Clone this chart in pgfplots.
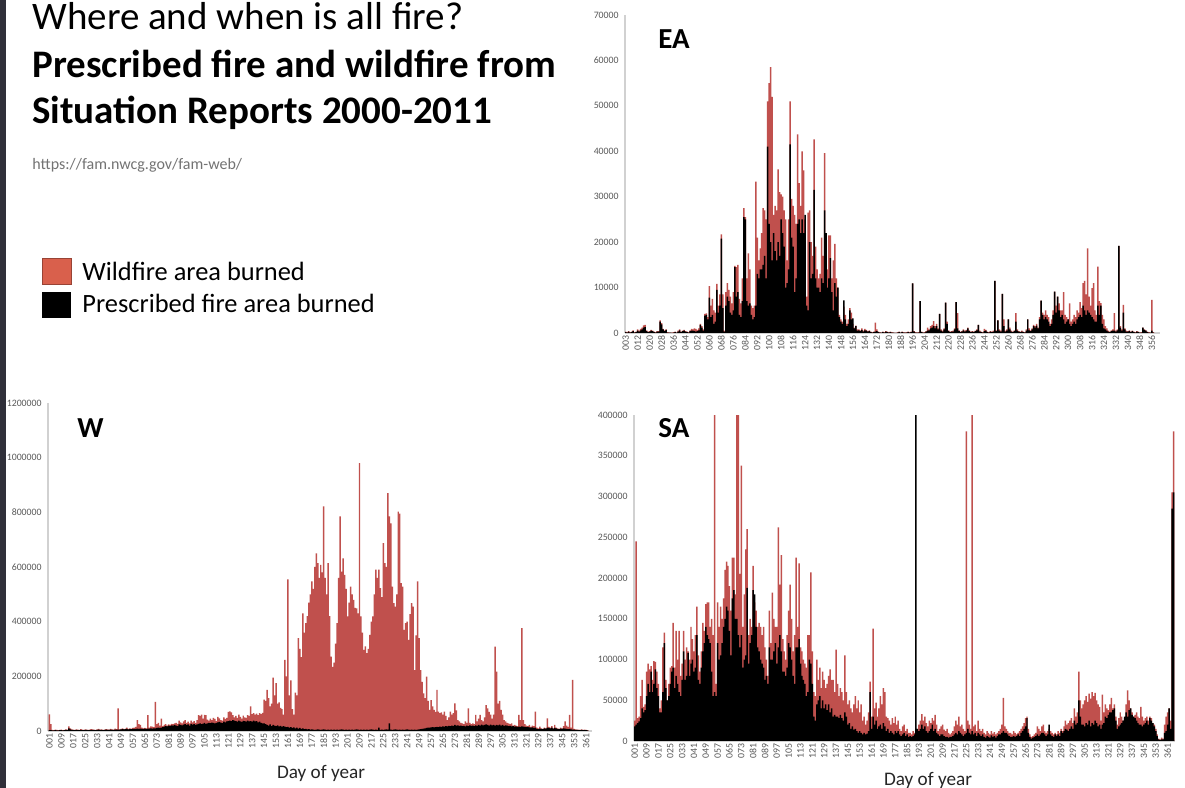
\documentclass[border=0pt]{standalone}
\usepackage{fontspec}
\setmainfont{Carlito}
\usepackage{pgfplots}
\usepackage{pgfplotstable}
\pgfplotsset{compat=1.18}
\definecolor{wfred}{HTML}{C0504D}
\definecolor{legred}{HTML}{D9604C}
\definecolor{ticktext}{HTML}{595959}
\definecolor{strip}{HTML}{30303A}

\pgfplotstableread[row sep=\\,header=false]{
4 0.3 0.2\\5 0.2 0.1\\6 0.4 0.3\\7 0.2 0.1\\8 0.3 0.2\\9 0.6 0.4\\10 0.2 0.1\\11 0.3 0.2\\12 0.8 0.5\\13 0.5 0.3\\
14 0.9 0.6\\15 1.2 0.8\\16 1.7 1.2\\17 1.8 1.3\\18 0.6 0.4\\19 0.3 0.2\\20 0.4 0.3\\21 0.7 0.5\\22 0.5 0.4\\23 0.3 0.2\\
24 0.2 0.1\\25 0.4 0.3\\26 0.4 0.3\\27 2.8 2.5\\28 2.2 1.9\\29 0.9 0.8\\30 0.6 0.4\\31 0.8 0.7\\32 0.2 0.1\\33 0.1 0.1\\
34 0.1 0.1\\35 0.1 0\\36 0.2 0.1\\37 0.3 0.2\\38 0.1 0.1\\39 0.5 0.3\\40 0.8 0.6\\41 0.3 0.2\\42 0.5 0.4\\43 0.7 0.5\\
44 0.4 0.3\\45 0.3 0.2\\46 0.2 0.1\\47 0.6 0.4\\48 0.9 0.5\\49 0.8 0.5\\50 1.0 0.4\\51 0.9 0.3\\52 0.7 0.4\\53 1.0 0.6\\
54 2.0 1.8\\55 1.5 1.2\\56 0.8 0.5\\57 4.2 3.8\\58 4.3 4.0\\59 3.5 3.0\\60 10.3 7.8\\61 6.0 3.5\\62 7.5 4.0\\63 5.0 2.0\\
64 4.5 2.5\\65 10.8 9.5\\66 6.0 4.5\\67 8.5 6.0\\68 21.7 20.8\\69 8.5 5.5\\70 0.5 0.3\\71 9.0 6.0\\72 11.0 8.0\\73 9.5 7.0\\
74 8.0 4.5\\75 6.5 4.0\\76 9.0 5.0\\77 14.8 14.5\\78 14.5 8.0\\79 15.0 9.0\\80 7.5 4.0\\81 6.5 3.5\\82 12.0 7.0\\83 27.5 25.5\\
84 25.5 25.0\\85 12.0 7.0\\86 17.5 6.0\\87 14.0 6.5\\88 6.0 4.0\\89 5.5 3.0\\90 6.0 3.5\\91 33.3 6.0\\92 21.0 13.0\\93 16.0 12.0\\
94 18.6 14.0\\95 22.0 14.0\\96 27.5 15.0\\97 27.0 17.0\\98 25.0 12.0\\99 51.0 41.0\\100 55.0 24.0\\101 58.5 20.0\\102 52.0 16.0\\103 26.0 22.0\\
104 28.0 18.0\\105 27.0 16.0\\106 36.0 20.0\\107 31.0 17.0\\108 30.5 25.0\\109 30.0 22.0\\110 27.0 19.0\\111 25.0 10.0\\112 16.0 11.0\\113 25.0 14.0\\
114 51.0 41.5\\115 29.5 21.0\\116 28.0 19.0\\117 26.0 9.0\\118 24.0 12.0\\119 43.7 24.0\\120 33.0 25.0\\121 28.0 22.0\\122 40.0 25.0\\123 35.8 22.0\\
124 25.0 26.0\\125 8.0 6.0\\126 26.5 5.0\\127 27.0 20.0\\128 20.0 12.0\\129 17.0 13.0\\130 42.6 31.5\\131 19.0 12.0\\132 14.0 10.0\\133 12.0 10.0\\
134 13.0 9.0\\135 21.0 12.0\\136 17.0 11.0\\137 39.6 27.0\\138 22.0 22.0\\139 14.0 10.0\\140 21.5 12.0\\141 21.5 16.5\\142 12.0 9.0\\143 16.0 5.0\\
144 19.6 11.0\\145 12.0 8.0\\146 10.0 10.0\\147 4.0 3.5\\148 3.0 2.5\\149 2.5 2.0\\150 5.8 7.2\\151 4.0 3.0\\152 2.0 1.5\\153 3.0 2.0\\
154 5.5 5.0\\155 4.5 3.0\\156 2.0 3.2\\157 1.2 1.0\\158 1.6 1.5\\159 0.8 0.5\\160 0.8 0.6\\161 0.6 0.4\\162 1.0 0.7\\163 0.5 0.3\\
164 0.9 0.6\\165 0.7 0.5\\166 0.4 0.3\\167 0.6 0.4\\168 0.3 0.2\\169 0.2 0.1\\170 0.3 0.2\\171 2.3 0.3\\172 0.8 0.4\\173 0.3 0.2\\
174 0.2 0.1\\175 0.1 0.1\\176 0.3 0.2\\177 0.2 0.1\\178 0.4 0.3\\179 0.3 0.2\\180 0.2 0.1\\181 0.3 0.2\\182 0.2 0.1\\183 0.1 0.1\\
184 0.1 0\\185 0 0\\186 0.2 0.1\\187 0.3 0.2\\188 0.1 0.1\\189 0.3 0.2\\190 0.2 0.1\\191 0.1 0.1\\192 0.2 0.1\\193 0.3 0.2\\
194 0.2 0.1\\195 0.3 0.2\\196 10.9 10.9\\197 0.4 0.3\\198 0.2 0.1\\199 0.1 0.1\\200 0.2 0.1\\201 7.0 7.0\\202 0.3 0.2\\203 0.1 0.1\\
204 0.2 0.1\\205 0.4 0.3\\206 1.2 0.5\\207 0.8 0.6\\208 1.5 1.0\\209 1.8 1.2\\210 2.6 1.5\\211 1.5 1.0\\212 2.0 1.5\\213 1.0 0.8\\
214 4.2 4.2\\215 0.8 0.5\\216 0.5 0.3\\217 1.0 0.8\\218 6.7 6.7\\219 2.5 2.0\\220 0.6 0.4\\221 0.3 0.2\\222 0.4 0.3\\223 0.5 0.3\\
224 1.0 0.8\\225 6.8 6.8\\226 4.4 1.0\\227 0.6 0.4\\228 0.3 0.2\\229 0.4 0.3\\230 0.8 0.6\\231 0.5 0.3\\232 0.7 0.5\\233 1.2 1.0\\
234 0.6 0.4\\235 0.3 0.2\\236 0.4 0.3\\237 0.3 0.2\\238 0.5 0.4\\239 0.8 0.6\\240 1.8 1.8\\241 0.5 0.3\\242 0.3 0.2\\243 0.2 0.1\\
244 0.9 0.4\\245 0.7 0.5\\246 0.3 0.2\\247 0.2 0.1\\248 0.4 0.3\\249 0.3 0.2\\250 0.5 0.3\\251 11.5 11.5\\252 0.6 0.4\\253 2.8 2.8\\
254 0.8 0.5\\255 0.5 0.3\\256 8.6 8.6\\257 3.0 1.5\\258 0.5 0.3\\259 0.8 0.5\\260 3.0 3.0\\261 1.2 0.8\\262 0.5 0.3\\263 0.3 0.2\\
264 0.6 0.4\\265 4.4 2.5\\266 0.8 0.5\\267 0.4 0.3\\268 0.3 0.2\\269 0.5 0.3\\270 0.3 0.2\\271 0.2 0.1\\272 0.8 0.5\\273 3.0 3.0\\
274 1.0 0.6\\275 0.6 0.4\\276 1.0 0.8\\277 1.8 1.5\\278 1.5 1.2\\279 2.0 1.6\\280 1.2 1.0\\281 3.5 3.0\\282 7.1 7.1\\283 4.5 4.0\\
284 4.0 3.0\\285 5.0 3.5\\286 4.0 3.0\\287 3.5 2.5\\288 2.0 1.5\\289 3.0 2.0\\290 5.0 4.0\\291 9.1 9.1\\292 6.0 4.5\\293 8.0 8.0\\
294 6.5 5.0\\295 5.0 3.5\\296 5.0 4.0\\297 9.0 3.0\\298 4.0 2.0\\299 3.5 2.5\\300 3.0 3.0\\301 6.5 2.0\\302 2.5 1.5\\303 3.0 2.0\\
304 4.0 2.5\\305 3.5 2.0\\306 5.0 3.0\\307 4.5 3.5\\308 6.8 4.0\\309 5.5 3.5\\310 11.0 6.0\\311 11.5 5.0\\312 8.5 4.0\\313 18.6 5.0\\
314 8.0 4.5\\315 6.0 4.0\\316 9.9 3.5\\317 11.0 3.0\\318 5.0 2.5\\319 4.0 2.5\\320 14.6 6.0\\321 7.0 4.0\\322 6.6 6.0\\323 4.0 2.0\\
324 3.0 1.0\\325 1.5 0.8\\326 1.0 0.5\\327 0.5 0.3\\328 0.3 0.2\\329 0.6 0.4\\330 0.8 0.5\\331 4.4 0.5\\332 0.5 0.3\\333 0.8 0.6\\
334 19.2 19.2\\335 1.5 1.2\\336 0.8 0.5\\337 6.2 4.5\\338 1.0 0.8\\339 0.5 0.3\\340 0.4 0.3\\341 0.6 0.4\\342 0.3 0.2\\343 0.5 0.4\\
344 0.3 0.2\\345 0.2 0.1\\346 0.4 0.3\\347 0.3 0.2\\348 0.1 0.1\\349 0.2 0.1\\350 1.2 1.2\\351 0.8 0.7\\352 0.6 0.5\\353 0.3 0.2\\
354 0.2 0.1\\355 0.1 0.1\\356 7.3 0.5\\357 0.2 0.1\\
}\eadata

\pgfplotstableread[row sep=\\,header=false]{
1 61 3\\2 25 3\\3 4 2\\4 3 2\\5 5 3\\6 4 2\\7 3 2\\8 4 3\\9 5 3\\10 3 2\\
11 4 3\\12 6 4\\13 5 3\\14 17 10\\15 10 6\\16 6 4\\17 5 3\\18 4 3\\19 6 4\\20 5 3\\
21 4 3\\22 7 4\\23 5 3\\24 4 3\\25 6 4\\26 5 4\\27 4 3\\28 5 3\\29 7 4\\30 6 4\\
31 5 3\\32 4 3\\33 6 4\\34 8 5\\35 5 4\\36 6 4\\37 4 3\\38 5 4\\39 7 5\\40 6 4\\
41 5 4\\42 8 5\\43 6 4\\44 5 4\\45 9 5\\46 7 5\\47 83 5\\48 6 5\\49 8 6\\50 10 7\\
51 7 6\\52 9 7\\53 12 8\\54 8 6\\55 10 7\\56 9 7\\57 11 8\\58 12 8\\59 15 8\\60 40 9\\
61 25 8\\62 22 9\\63 12 8\\64 10 8\\65 11 9\\66 10 8\\67 58 9\\68 12 9\\69 17 10\\70 16 9\\
71 14 10\\72 107 10\\73 25 11\\74 30 12\\75 20 11\\76 45 12\\77 18 14\\78 22 16\\79 25 18\\80 20 17\\
81 24 20\\82 22 18\\83 26 21\\84 25 20\\85 28 22\\86 30 20\\87 26 18\\88 38 24\\89 32 22\\90 28 21\\
91 35 23\\92 40 25\\93 30 22\\94 34 24\\95 28 20\\96 38 26\\97 32 23\\98 36 25\\99 30 22\\100 40 24\\
101 58 26\\102 55 28\\103 60 25\\104 45 27\\105 59 30\\106 58 26\\107 42 28\\108 38 30\\109 45 29\\110 40 31\\
111 48 30\\112 44 28\\113 36 30\\114 52 32\\115 46 33\\116 40 31\\117 38 29\\118 50 34\\119 44 32\\120 48 35\\
121 70 36\\122 72 38\\123 68 36\\124 58 40\\125 50 38\\126 55 36\\127 48 34\\128 60 38\\129 52 35\\130 45 33\\
131 56 37\\132 50 36\\133 48 34\\134 58 38\\135 55 35\\136 90 36\\137 62 34\\138 65 38\\139 60 35\\140 64 36\\
141 58 32\\142 65 34\\143 62 30\\144 66 28\\145 115 28\\146 110 25\\147 150 22\\148 120 20\\149 90 24\\150 100 18\\
151 195 22\\152 130 20\\153 175 18\\154 100 21\\155 105 17\\156 85 19\\157 80 15\\158 60 18\\159 260 16\\160 200 14\\
161 555 15\\162 130 12\\163 185 14\\164 80 11\\165 60 13\\166 140 10\\167 130 12\\168 340 9\\169 300 11\\170 270 8\\
171 430 10\\172 360 7\\173 395 8\\174 420 6\\175 470 7\\176 500 5\\177 547 6\\178 520 5\\179 600 4\\180 650 5\\
181 614 6\\182 560 5\\183 608 4\\184 580 5\\185 822 6\\186 560 5\\187 500 4\\188 614 5\\189 420 4\\190 272 5\\
191 235 4\\192 250 5\\193 320 4\\194 395 5\\195 560 4\\196 785 5\\197 583 6\\198 632 5\\199 571 4\\200 520 5\\
201 419 4\\202 470 5\\203 528 4\\204 500 5\\205 480 4\\206 450 5\\207 449 6\\208 430 5\\209 980 4\\210 419 5\\
211 360 4\\212 297 5\\213 310 4\\214 285 5\\215 300 4\\216 352 5\\217 400 6\\218 419 5\\219 500 4\\220 590 5\\
221 560 4\\222 590 12\\223 523 4\\224 490 5\\225 687 4\\226 614 5\\227 600 6\\228 870 5\\229 785 28\\230 760 5\\
231 528 4\\232 468 5\\233 455 6\\234 500 5\\235 803 4\\236 795 5\\237 541 4\\238 528 5\\239 370 4\\240 395 5\\
241 400 6\\242 333 5\\243 428 4\\244 468 5\\245 455 4\\246 223 5\\247 350 4\\248 547 5\\249 340 6\\250 223 7\\
251 180 8\\252 138 9\\253 120 10\\254 199 11\\255 110 12\\256 77 12\\257 113 13\\258 90 14\\259 77 13\\260 70 14\\
261 150 15\\262 71 14\\263 65 16\\264 68 15\\265 60 17\\266 71 16\\267 55 18\\268 40 17\\269 50 19\\270 71 18\\
271 60 20\\272 65 19\\273 101 22\\274 75 20\\275 40 21\\276 35 19\\277 30 20\\278 28 18\\279 25 19\\280 35 17\\
281 30 20\\282 83 18\\283 30 21\\284 25 19\\285 28 20\\286 25 18\\287 59 21\\288 35 19\\289 45 22\\290 59 20\\
291 40 23\\292 35 21\\293 50 22\\294 95 24\\295 83 22\\296 70 20\\297 60 23\\298 45 21\\299 60 22\\300 309 20\\
301 217 22\\302 100 21\\303 110 23\\304 77 20\\305 60 22\\306 40 19\\307 35 21\\308 30 20\\309 28 18\\310 25 19\\
311 28 17\\312 20 18\\313 22 16\\314 20 17\\315 18 15\\316 59 16\\317 40 15\\318 376 17\\319 40 16\\320 25 15\\
321 20 14\\322 18 15\\323 22 13\\324 15 12\\325 20 13\\326 18 11\\327 71 12\\328 12 8\\329 10 7\\330 16 9\\
331 10 8\\332 8 7\\333 12 10\\334 10 9\\335 46 12\\336 15 11\\337 12 10\\338 18 12\\339 10 9\\340 22 11\\
341 12 10\\342 10 8\\343 8 7\\344 12 9\\345 10 8\\346 18 10\\347 35 9\\348 20 8\\349 15 7\\350 59 8\\
351 12 6\\352 187 5\\353 8 5\\354 6 4\\355 5 4\\356 5 3\\357 4 3\\358 6 4\\359 4 3\\360 5 3\\
361 4 3\\362 3 2\\
}\wdata

\pgfplotstableread[row sep=\\,header=false]{
1 25 18\\2 245 20\\3 28 22\\4 30 24\\5 55 28\\6 75 40\\7 42 35\\8 45 38\\9 85 55\\10 95 70\\
11 88 60\\12 92 85\\13 75 60\\14 98 70\\15 97 88\\16 85 65\\17 70 55\\18 40 35\\19 50 35\\20 115 60\\
21 133 120\\22 75 65\\23 50 50\\24 70 55\\25 90 70\\26 92 85\\27 145 90\\28 90 65\\29 135 80\\30 100 70\\
31 135 60\\32 80 55\\33 95 75\\34 135 110\\35 100 75\\36 115 80\\37 110 108\\38 100 80\\39 140 95\\40 125 100\\
41 110 85\\42 130 90\\43 165 130\\44 105 75\\45 85 70\\46 110 90\\47 145 110\\48 135 120\\49 168 140\\50 170 130\\
51 170 125\\52 140 120\\53 150 85\\54 130 55\\55 400 60\\56 70 55\\57 170 120\\58 140 100\\59 165 105\\60 150 120\\
61 175 140\\62 210 150\\63 220 165\\64 215 160\\65 190 135\\66 160 105\\67 225 175\\68 225 185\\69 180 150\\70 400 150\\
71 400 130\\72 205 115\\73 338 130\\74 140 90\\75 180 100\\76 235 105\\77 260 188\\78 130 95\\79 150 120\\80 140 130\\
81 215 185\\82 170 180\\83 160 140\\84 140 115\\85 145 110\\86 140 100\\87 130 95\\88 140 90\\89 115 75\\90 100 80\\
91 80 70\\92 160 115\\93 120 100\\94 182 100\\95 150 110\\96 140 120\\97 140 95\\98 262 115\\99 192 130\\100 228 110\\
101 125 85\\102 110 85\\103 100 80\\104 130 90\\105 160 120\\106 192 115\\107 150 100\\108 110 80\\109 130 70\\110 225 115\\
111 140 115\\112 218 125\\113 115 95\\114 110 80\\115 100 75\\116 95 70\\117 90 55\\118 130 60\\119 130 100\\120 207 95\\
121 110 70\\122 60 30\\123 55 25\\124 100 45\\125 75 50\\126 90 55\\127 65 40\\128 85 50\\129 75 40\\130 65 45\\
131 70 38\\132 80 45\\133 88 35\\134 75 40\\135 75 30\\136 60 32\\137 112 30\\138 70 30\\139 55 28\\140 65 32\\
141 60 28\\142 50 25\\143 105 35\\144 60 30\\145 45 20\\146 50 22\\147 40 15\\148 35 18\\149 45 14\\150 55 15\\
151 40 12\\152 50 10\\153 35 12\\154 45 10\\155 25 8\\156 30 10\\157 20 8\\158 25 9\\159 35 12\\160 73 60\\
161 30 15\\162 138 30\\163 40 20\\164 47 25\\165 30 15\\166 40 18\\167 55 20\\168 45 15\\169 65 22\\170 60 18\\
171 30 12\\172 28 15\\173 25 10\\174 20 12\\175 28 10\\176 22 8\\177 30 12\\178 20 10\\179 25 12\\180 15 8\\
181 12 6\\182 18 8\\183 20 10\\184 12 6\\185 15 8\\186 10 5\\187 10 6\\188 8 5\\189 12 6\\190 10 8\\
191 15 400\\192 15 15\\193 20 12\\194 25 15\\195 33 20\\196 25 15\\197 30 18\\198 22 12\\199 18 10\\200 25 12\\
201 22 15\\202 28 20\\203 25 12\\204 32 15\\205 20 10\\206 12 8\\207 15 6\\208 18 8\\209 20 8\\210 14 6\\
211 12 5\\212 15 5\\213 10 4\\214 8 5\\215 10 5\\216 12 6\\217 18 8\\218 25 10\\219 20 8\\220 30 12\\
221 18 10\\222 20 8\\223 15 6\\224 12 8\\225 380 10\\226 25 15\\227 20 10\\228 15 8\\229 400 12\\230 18 8\\
231 20 10\\232 12 6\\233 25 10\\234 15 8\\235 12 6\\236 15 8\\237 10 5\\238 8 4\\239 12 6\\240 10 5\\
241 8 4\\242 12 7\\243 9 5\\244 11 6\\245 8 4\\246 10 6\\247 12 8\\248 15 8\\249 20 10\\250 53 12\\
251 18 10\\252 15 10\\253 12 8\\254 10 6\\255 10 5\\256 8 5\\257 12 6\\258 10 5\\259 8 6\\260 10 8\\
261 12 6\\262 15 10\\263 18 12\\264 22 15\\265 28 18\\266 30 28\\267 15 10\\268 8 5\\269 5 3\\270 6 4\\
271 8 5\\272 10 6\\273 18 8\\274 15 6\\275 12 8\\276 18 10\\277 20 10\\278 12 8\\279 10 6\\280 12 8\\
281 15 20\\282 12 8\\283 10 6\\284 8 5\\285 10 8\\286 8 6\\287 12 8\\288 10 6\\289 15 12\\290 12 10\\
291 18 12\\292 25 15\\293 20 14\\294 22 12\\295 25 15\\296 28 18\\297 22 15\\298 40 25\\299 30 20\\300 35 22\\
301 85 50\\302 50 30\\303 40 20\\304 45 20\\305 50 18\\306 55 22\\307 48 20\\308 58 25\\309 52 18\\310 60 22\\
311 55 20\\312 59 25\\313 50 22\\314 45 18\\315 42 20\\316 25 15\\317 57 20\\318 35 22\\319 45 30\\320 40 28\\
321 38 32\\322 45 35\\323 53 35\\324 40 38\\325 45 40\\326 30 25\\327 20 15\\328 28 18\\329 35 20\\330 30 22\\
331 25 25\\332 28 30\\333 45 35\\334 62 30\\335 50 38\\336 40 40\\337 35 32\\338 30 30\\339 32 28\\340 35 25\\
341 30 22\\342 28 20\\343 42 20\\344 30 18\\345 25 20\\346 28 22\\347 30 25\\348 25 20\\349 30 28\\350 28 25\\
351 22 22\\352 20 18\\353 15 12\\354 8 6\\355 3 2\\356 2 1\\357 4 2\\358 3 2\\359 20 10\\360 30 12\\
361 35 20\\362 40 40\\363 25 15\\364 305 285\\365 380 305\\
}\sadata

\pgfplotsset{
  fireax/.style={
    scale only axis, anchor=south west,
    axis lines*=left,
    axis line style={draw=black!18, line width=0.6pt, -},
    major tick length=0pt,
    ymin=0, clip=true,
    tick label style={font=\fontsize{4.9}{5.5}\selectfont, text=ticktext},
    xticklabel style={rotate=90, anchor=east, inner sep=1.2pt},
    yticklabel style={anchor=east, inner sep=1pt, xshift=-2pt},
  },
  dayticks/.style={
    xtick={1,9,...,361},
    xticklabels={001,009,017,025,033,041,049,057,065,073,081,089,097,105,113,121,129,137,145,153,161,169,177,185,193,201,209,217,225,233,241,249,257,265,273,281,289,297,305,313,321,329,337,345,353,361},
  },
  wbar/.style={ybar, bar width=1, bar shift=0pt, fill=wfred, draw=none},
  pbar/.style={ybar, bar width=1, bar shift=0pt, fill=black, draw=none},
}

\begin{document}
\begin{tikzpicture}[x=0.5pt,y=0.5pt]
\useasboundingbox (0,0) rectangle (1185,788);
\fill[white] (0,0) rectangle (1185,788);
\fill[strip] (0,0) rectangle (6,788);

% Titles
\node[anchor=base west, inner sep=0] at (32,758) {\fontsize{19.5}{23}\selectfont Where and when is all fire?};
\node[anchor=base west, inner sep=0] at (32,710) {\fontsize{19.5}{23}\selectfont\bfseries Prescribed fire and wildfire from};
\node[anchor=base west, inner sep=0] at (32,664) {\fontsize{19.5}{23}\selectfont\bfseries Situation Reports 2000-2011};
\node[anchor=base west, inner sep=0, text=black!55] at (32,618) {\fontsize{8}{9.6}\selectfont https://fam.nwcg.gov/fam-web/};

% Legend
\filldraw[fill=legred, draw=legred!70!black, line width=0.4pt] (42,504) rectangle (71,530);
\fill[black] (42,470) rectangle (71,496);
\node[anchor=base west, inner sep=0] at (82,507) {\fontsize{13.2}{15}\selectfont Wildfire area burned};
\node[anchor=base west, inner sep=0] at (82,475) {\fontsize{13.2}{15}\selectfont Prescribed fire area burned};

% EA
\begin{axis}[fireax, at={(312.5pt,227.5pt)}, width=267.5pt, height=159pt,
  xmin=3.5, xmax=361.5, ymax=70,
  ytick={0,10,...,70}, yticklabels={0,10000,20000,30000,40000,50000,60000,70000},
  xtick={4,12,...,356},
  xticklabels={003,012,020,028,036,044,052,060,068,076,084,092,100,108,116,124,132,140,148,156,164,172,180,188,196,204,212,220,228,236,244,252,260,268,276,284,292,300,308,316,324,332,340,348,356}]
\addplot[wbar] table[x index=0, y index=1] {\eadata};
\addplot[pbar] table[x index=0, y index=2] {\eadata};
\end{axis}

% W
\begin{axis}[fireax, dayticks, at={(24pt,28.5pt)}, width=272pt, height=164pt,
  xmin=0, xmax=365, ymax=1200,
  ytick={0,200,...,1200}, yticklabels={0,200000,400000,600000,800000,1000000,1200000}]
\addplot[wbar] table[x index=0, y index=1] {\wdata};
\addplot[pbar] table[x index=0, y index=2] {\wdata};
\end{axis}

% SA
\begin{axis}[fireax, dayticks, at={(317pt,23.5pt)}, width=270.5pt, height=163pt,
  xmin=0.5, xmax=366, ymax=400,
  ytick={0,50,...,400}, yticklabels={0,50000,100000,150000,200000,250000,300000,350000,400000}]
\addplot[wbar] table[x index=0, y index=1] {\sadata};
\addplot[pbar] table[x index=0, y index=2] {\sadata};
\end{axis}

% Panel labels
\node[anchor=base west, inner sep=0] at (658,739) {\fontsize{14.5}{17}\selectfont\bfseries EA};
\node[anchor=base west, inner sep=0] at (77,350) {\fontsize{14.5}{17}\selectfont\bfseries W};
\node[anchor=base west, inner sep=0] at (658,350) {\fontsize{14.5}{17}\selectfont\bfseries SA};

% Axis titles
\node[anchor=base, inner sep=0, text=black!85] at (321,9) {\fontsize{9.6}{11}\selectfont Day of year};
\node[anchor=base, inner sep=0, text=black!85] at (928,2) {\fontsize{9.6}{11}\selectfont Day of year};
\end{tikzpicture}
\end{document}
